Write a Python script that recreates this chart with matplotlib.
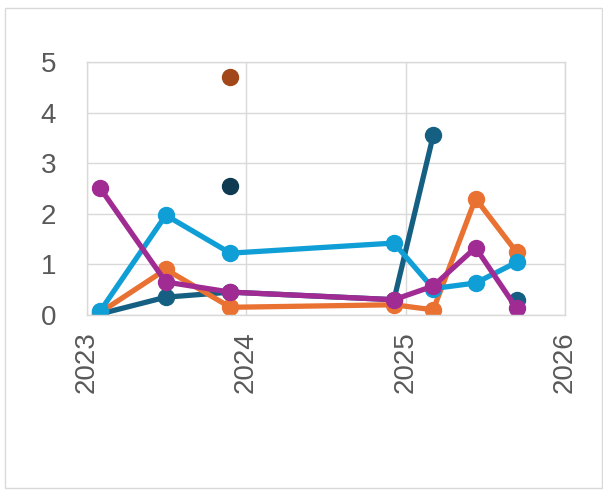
import numpy as np
import matplotlib
matplotlib.use("Agg")
import matplotlib.pyplot as plt
import matplotlib.dates as mdates
from matplotlib.patches import Rectangle

plt.rcParams['font.family'] = ['Liberation Sans', 'DejaVu Sans']

dates = np.array(['2023-02-01', '2023-07-01', '2023-11-26', '2024-12-05',
                  '2025-03-05', '2025-06-10', '2025-09-12'], dtype='datetime64[D]')
navy = [0.02, 0.35, 0.45, 0.30, 3.55, np.nan, 0.30]
orange = [0.05, 0.90, 0.15, 0.20, 0.10, 2.30, 1.24]
cyan = [0.08, 1.97, 1.22, 1.42, 0.52, 0.63, 1.04]
purple = [2.50, 0.65, 0.45, 0.30, 0.57, 1.33, 0.13]

# single-point series
extra_dates = np.array(['2023-11-26'], dtype='datetime64[D]')
navy_dark = [2.55]
orange_dark = [4.70]

series = [
    (navy, '#156082'),
    (orange, '#E97132'),
    (cyan, '#0F9ED5'),
    (purple, '#A02B93'),
]

fig = plt.figure(figsize=(6.03, 4.92), dpi=100)
ax = fig.add_axes([0.144, 0.360, 0.793, 0.514])

for vals, col in series:
    ax.plot(dates, vals, color=col, lw=3.8, marker='o', ms=11.5,
            solid_capstyle='round', solid_joinstyle='round')

ax.plot(extra_dates, navy_dark, 'o', color='#0E3A52', ms=11.5)
ax.plot(extra_dates, orange_dark, 'o', color='#A2471A', ms=11.5)

ax.set_xlim(np.datetime64('2023-01-01'), np.datetime64('2026-01-01'))
ax.set_ylim(0, 5)
ax.set_yticks(range(6))
ax.xaxis.set_major_locator(mdates.YearLocator())
ax.xaxis.set_major_formatter(mdates.DateFormatter('%Y'))

grid_col = '#D9D9D9'
ax.grid(True, color=grid_col, lw=1)
ax.set_axisbelow(True)
for sp in ax.spines.values():
    sp.set_color(grid_col)
    sp.set_linewidth(1)
ax.tick_params(length=0, labelsize=20, labelcolor='#595959', pad=12)
ax.tick_params(axis='y', pad=22)
for lbl in ax.get_xticklabels():
    lbl.set_rotation(90)

fig.patches.append(Rectangle((0.008, 0.008), 0.990, 0.976, transform=fig.transFigure,
                             fill=False, edgecolor='#D9D9D9', lw=1))

fig.savefig('out.png', dpi=100)
